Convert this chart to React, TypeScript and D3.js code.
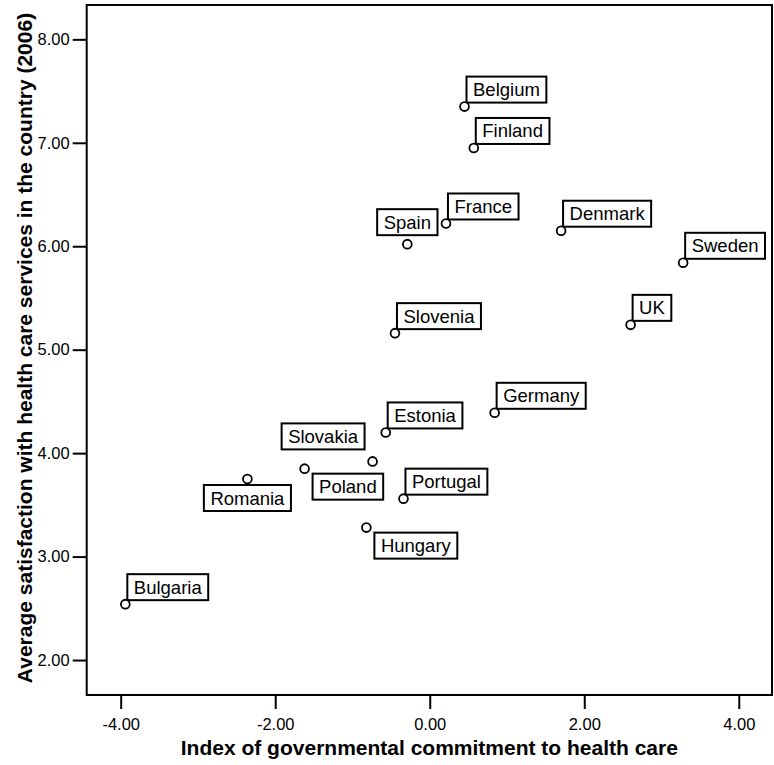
import React, { useEffect, useRef } from 'react';
import * as d3 from 'd3';

// --- Data ---
const countries = [
  'Belgium', 'Finland', 'France', 'Spain', 'Denmark', 'Sweden', 'UK', 'Slovenia',
  'Germany', 'Estonia', 'Slovakia', 'Poland', 'Portugal', 'Hungary', 'Romania', 'Bulgaria',
];
const commitment = [
  0.45, 0.57, 0.21, -0.29, 1.70, 3.28, 2.60, -0.45,
  0.84, -0.57, -0.74, -1.62, -0.34, -0.82, -2.36, -3.94,
];
const satisfaction = [
  7.35, 6.95, 6.22, 6.02, 6.15, 5.84, 5.24, 5.16,
  4.39, 4.20, 3.92, 3.85, 3.56, 3.28, 3.75, 2.54,
];
const xTicks = [-4, -2, 0, 2, 4];
const yTicks = [2, 3, 4, 5, 6, 7, 8];

const xTitle = 'Index of governmental commitment to health care';
const yTitle = 'Average satisfaction with health care services in the country (2006)';

// where each label box sits relative to its marker (default: upper right)
const labelPlacement: Record<string, string> = {
  Spain: 'uc',
  Slovakia: 'ul',
  Poland: 'lr',
  Hungary: 'lr',
  Romania: 'lc',
};

const W = 774;
const H = 765;
const FONT = '"Liberation Sans", Arial, Helvetica, sans-serif';

const App = () => {
  const ref = useRef<SVGSVGElement | null>(null);

  useEffect(() => {
    if (!ref.current) return;
    const svg = d3.select(ref.current);
    svg.selectAll('*').remove();

    // plot frame
    const left = 86.7, right = 772, top = 5, bottom = 695;

    const x = d3.scaleLinear().domain([-4.44, 4.43]).range([left, right]);
    const y = d3.scaleLinear().domain([1.662, 8.332]).range([bottom, top]);
    const fmt = (d: any) => (+d).toFixed(2);

    // --- Axes ---
    const gx = svg.append('g')
      .attr('transform', `translate(0,${bottom})`)
      .call(d3.axisBottom(x).tickValues(xTicks).tickFormat(fmt).tickSize(14).tickPadding(9.5));
    const gy = svg.append('g')
      .attr('transform', `translate(${left},0)`)
      .call(d3.axisLeft(y).tickValues(yTicks).tickFormat(fmt).tickSize(14).tickPadding(3));

    [gx, gy].forEach(g => {
      g.select('.domain').remove();
      g.selectAll('line').attr('stroke', '#000').attr('stroke-width', 2);
      g.selectAll('text')
        .attr('fill', '#000')
        .style('font-family', FONT)
        .style('font-size', '16.5px');
    });

    // frame
    svg.append('rect')
      .attr('x', left).attr('y', top)
      .attr('width', right - left).attr('height', bottom - top)
      .attr('fill', 'none').attr('stroke', '#000').attr('stroke-width', 2);

    // titles
    svg.append('text')
      .attr('x', (left + right) / 2).attr('y', 755)
      .attr('text-anchor', 'middle')
      .style('font-family', FONT).style('font-size', '21px').style('font-weight', 'bold')
      .text(xTitle);
    svg.append('text')
      .attr('transform', `translate(32,${(top + bottom) / 2 - 2}) rotate(-90)`)
      .attr('text-anchor', 'middle')
      .style('font-family', FONT).style('font-size', '21px').style('font-weight', 'bold')
      .text(yTitle);

    // --- Labels (box + text) ---
    const data = countries.map((c, i) => ({ name: c, vx: commitment[i], vy: satisfaction[i] }));
    const h = 26;
    data.forEach(d => {
      const cx = x(d.vx), cy = y(d.vy);
      const g = svg.append('g');
      const rect = g.append('rect');
      const t = g.append('text')
        .style('font-family', FONT).style('font-size', '18.5px')
        .attr('fill', '#000')
        .text(d.name);
      const tw = (t.node() as SVGTextElement).getComputedTextLength();
      const w = tw + 13;
      let bx = cx + 2, by = cy - 4 - h;
      switch (labelPlacement[d.name]) {
        case 'ul': bx = cx - 8 - w; by = cy - 12 - h; break;
        case 'lr': bx = cx + 8; by = cy + 5; break;
        case 'uc': bx = cx - w / 2; by = cy - 9 - h; break;
        case 'lc': bx = cx - w / 2; by = cy + 6; break;
      }
      rect.attr('x', bx).attr('y', by).attr('width', w).attr('height', h)
        .attr('fill', '#fff').attr('stroke', '#000').attr('stroke-width', 2);
      t.attr('x', bx + 6.5).attr('y', by + 19.5);
    });

    // --- Markers ---
    svg.selectAll('.pt')
      .data(data)
      .enter()
      .append('circle')
      .attr('class', 'pt')
      .attr('cx', d => x(d.vx))
      .attr('cy', d => y(d.vy))
      .attr('r', 4.4)
      .attr('fill', '#fff')
      .attr('stroke', '#000')
      .attr('stroke-width', 1.8);
  }, []);

  return (
    <svg
      ref={ref}
      width={W}
      height={H}
      style={{ position: 'absolute', left: 0, top: 0, background: '#fff', display: 'block' }}
    />
  );
};

export default App;
